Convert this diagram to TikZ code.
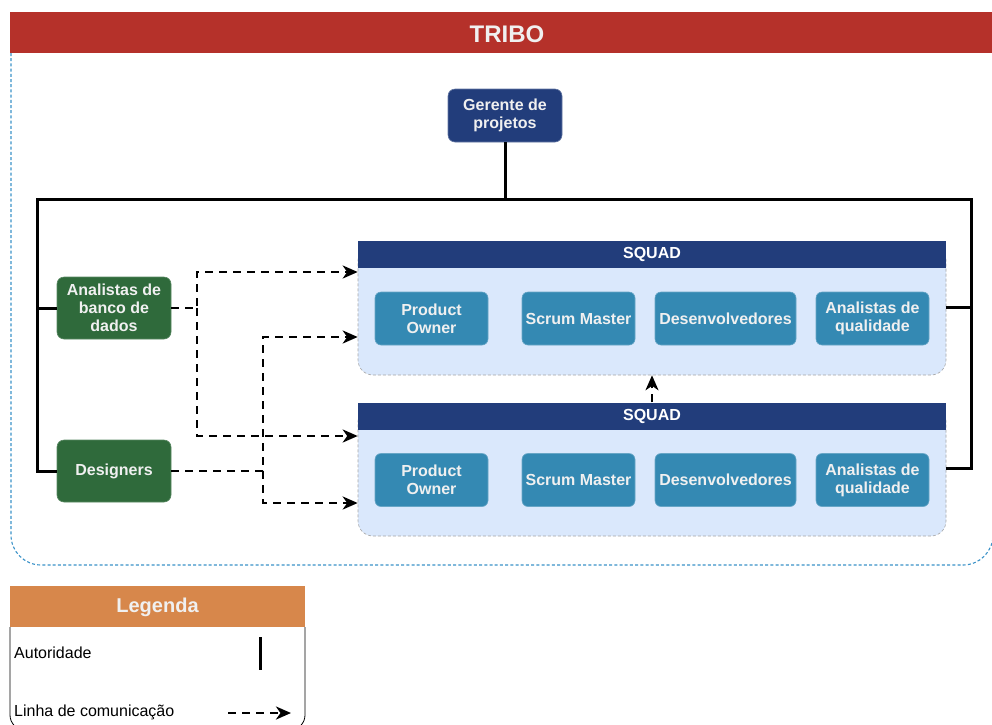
\documentclass[tikz,border=0pt]{standalone}
\usepackage{fontspec}
\setmainfont{Liberation Sans}
\usetikzlibrary{arrows.meta,calc}

\definecolor{tribored}{HTML}{B5312A}
\definecolor{navy}{HTML}{223D7B}
\definecolor{teamgreen}{HTML}{2F6A3B}
\definecolor{roleteal}{HTML}{3489B3}
\definecolor{squadbg}{HTML}{DAE8FC}
\definecolor{lanedash}{HTML}{3A92C8}
\definecolor{legendorange}{HTML}{D7874B}
\definecolor{labelgray}{HTML}{F0F0F0}

\newcommand\roleFont{\fontsize{16}{18}\selectfont\bfseries}

\begin{document}
\begin{tikzpicture}[x=1pt,y=-1pt,
  authority/.style={line width=3pt, black},
  comm/.style={line width=2.8pt, black, dash pattern=on 8pt off 6pt,
    -{Stealth[length=15pt,width=13pt,inset=4.5pt]}},
  rolebox/.style={rectangle, rounded corners=6pt, fill=roleteal,
    draw=roleteal!75!white, line width=0.6pt, text=labelgray,
    font=\roleFont, align=center, minimum height=53pt, inner sep=1pt},
  teambox/.style={rectangle, rounded corners=7pt, fill=teamgreen,
    draw=teamgreen!80!white, line width=0.6pt, text=labelgray,
    font=\roleFont, align=center, minimum width=114pt, minimum height=62pt, inner sep=1pt},
  squadbody/.style={rectangle, rounded corners=15pt, fill=squadbg,
    draw=gray!70, dash pattern=on 3pt off 2pt, line width=0.6pt,
    minimum width=588pt, minimum height=130pt},
  squadhead/.style={rectangle, fill=navy, text=white, font=\roleFont,
    minimum width=588pt, minimum height=27pt, inner sep=0pt},
]
\useasboundingbox (0,0) rectangle (992,724);
\begin{scope}
\clip (0,0) rectangle (992,724);

% tribe lane: dashed body and red title bar
\draw[lanedash, line width=1.1pt, dash pattern=on 3pt off 2.2pt, rounded corners=30pt]
  (11,53) -- (11,565) -- (993,565) -- (993,53);
\fill[tribored] (10,12) rectangle (1002,53);
\node[text=labelgray, font=\fontsize{24}{26}\selectfont\bfseries] (tribo) at (507,34) {TRIBO};

% manager
\node[rectangle, rounded corners=7pt, fill=navy, draw=navy!70!white, line width=0.6pt,
  text=labelgray, font=\roleFont, align=center,
  minimum width=114pt, minimum height=53pt, inner sep=1pt] (ger) at (505,115.5) {Gerente de\\projetos};

% squads
\node[squadbody] (sq1) at (652,310) {};
\node[squadhead] (sq1h) at (652,254.5) {SQUAD};
\node[squadbody] (sq2) at (652,471) {};
\node[squadhead] (sq2h) at (652,416) {SQUAD};

% roles inside each squad
\foreach \s/\y in {a/318.5, b/480} {
  \node[rolebox, minimum width=113pt] (po\s) at (431.5,\y) {Product\\Owner};
  \node[rolebox, minimum width=113pt] (sm\s) at (578.5,\y) {Scrum Master};
  \node[rolebox, minimum width=141pt] (dev\s) at (725.5,\y) {Desenvolvedores};
  \node[rolebox, minimum width=113pt] (qa\s) at (872.5,\y) {Analistas de\\qualidade};
}

% shared teams
\node[teambox] (adb) at (114,308) {Analistas de\\banco de\\dados};
\node[teambox] (des) at (114,471) {Designers};

% authority lines
\coordinate (topL) at (37,199);
\coordinate (topR) at (971,199);
\draw[authority] (ger.south) -- (ger.south |- topL);
\draw[authority] (des.west) -- (des.west -| topL) -- (topL) -- (topR)
  -- (topR |- 0,468) -- (sq2.east |- 0,468);
\draw[authority] (adb.west) -- (adb.west -| topL);
\draw[authority] (topR |- 0,307) -- (sq1.east |- 0,307);

% communication lines
\coordinate (ja) at (197,308);
\coordinate (jd) at (263,471);
\draw[comm] (adb.east) -- (ja) |- (sq1.west |- 0,272);
\draw[comm] (ja) |- (sq2.west |- 0,436);
\draw[comm] (des.east) -- (jd) |- (sq1.west |- 0,337);
\draw[comm] (jd) |- (sq2.west |- 0,503);
\draw[comm, line width=2pt] (sq2h.north) -- (sq1.south);

% legend
\draw[black, line width=0.8pt, fill=white, rounded corners=15pt]
  (10,627) -- (10,730) -- (305,730) -- (305,627);
\fill[legendorange] (10,586) rectangle (305,627);
\node[text=labelgray, font=\fontsize{20}{22}\selectfont\bfseries] (legtitle) at (157.5,607) {Legenda};
\node[anchor=west, font=\fontsize{16}{18}\selectfont, inner sep=0pt] (legauth) at (14,653) {Autoridade};
\node[anchor=west, font=\fontsize{16}{18}\selectfont, inner sep=0pt] (legcomm) at (14,712) {Linha de comunicação};
\coordinate (authA) at (260,637);
\coordinate (authB) at (260,670);
\draw[authority] (authA) -- (authB);
\coordinate (commA) at (228,713);
\coordinate (commB) at (291,713);
\draw[comm] (commA) -- (commB);
\end{scope}
\end{tikzpicture}
\end{document}
